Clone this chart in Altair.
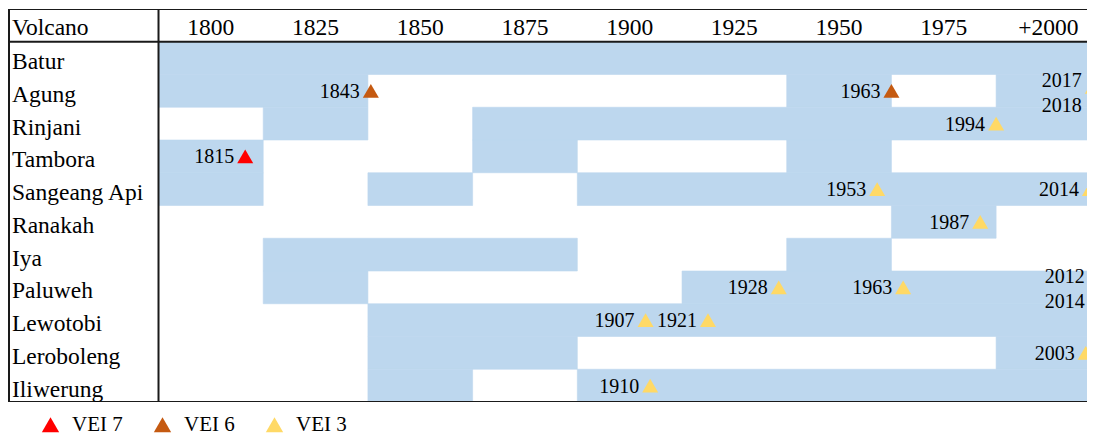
import altair as alt
import pandas as pd

# ---------------- data ----------------
volcanoes = ["Batur", "Agung", "Rinjani", "Tambora", "Sangeang Api", "Ranakah",
             "Iya", "Paluweh", "Lewotobi", "Leroboleng", "Iliwerung"]
period_years = [1800, 1825, 1850, 1875, 1900, 1925, 1950, 1975, 2000]
period_labels = ["1800", "1825", "1850", "1875", "1900", "1925", "1950", "1975", "+2000"]

# 1 = shaded (active) period, 0 = blank
active = {
    "Batur":        [1, 1, 1, 1, 1, 1, 1, 1, 1],
    "Agung":        [1, 1, 0, 0, 0, 0, 1, 0, 1],
    "Rinjani":      [0, 1, 0, 1, 1, 1, 1, 1, 1],
    "Tambora":      [1, 0, 0, 1, 0, 0, 1, 0, 0],
    "Sangeang Api": [1, 0, 1, 0, 1, 1, 1, 1, 1],
    "Ranakah":      [0, 0, 0, 0, 0, 0, 0, 1, 0],
    "Iya":          [0, 1, 1, 1, 0, 0, 1, 0, 0],
    "Paluweh":      [0, 1, 0, 0, 0, 1, 1, 1, 1],
    "Lewotobi":     [0, 0, 1, 1, 1, 1, 1, 1, 1],
    "Leroboleng":   [0, 0, 1, 1, 0, 0, 0, 0, 1],
    "Iliwerung":    [0, 0, 1, 0, 1, 1, 1, 1, 1],
}

event_volcano = ["Tambora", "Agung", "Agung", "Agung", "Rinjani", "Sangeang Api",
                 "Sangeang Api", "Ranakah", "Paluweh", "Paluweh", "Paluweh",
                 "Lewotobi", "Lewotobi", "Leroboleng", "Iliwerung"]
event_label = ["1815", "1843", "1963", "2017\n2018", "1994", "1953", "2014", "1987",
               "1928", "1963", "2012\n2014", "1907", "1921", "2003", "1910"]
event_vei = [7, 6, 6, 3, 3, 3, 3, 3, 3, 3, 3, 3, 3, 3, 3]
# where each marker sits along the time axis
event_pos = [1815.7, 1845.7, 1970.0, 2018.1, 1995.0, 1966.6, 2017.4, 1991.2,
             1943.1, 1972.8, 2018.8, 1911.3, 1926.2, 2016.4, 1912.4]

vei_names = ["VEI 7", "VEI 6", "VEI 3"]
vei_colors = ["#FF0000", "#C55A11", "#FFD966"]

# ---------------- tables built from the arrays ----------------
SPAN = 25
X_MIN, X_MAX = 1759.3, 2016.7
GRID_START = period_years[0] - 5
GRID_END = GRID_START + SPAN * len(period_years)
N_ROWS = len(volcanoes)

cells = []
for i, v in enumerate(volcanoes):
    flags = active[v]
    c = 0
    while c < len(flags):
        if flags[c]:
            s = c
            while c + 1 < len(flags) and flags[c + 1]:
                c += 1
            cells.append({"volcano": v, "x": GRID_START + SPAN * s,
                          "x2": GRID_START + SPAN * (c + 1), "y": i + 1, "y2": i + 2})
        c += 1
cells_df = pd.DataFrame(cells)

header_df = pd.DataFrame({
    "label": ["Volcano"] + period_labels,
    "x": [X_MIN] + [GRID_START + SPAN * k + SPAN / 2 for k in range(len(period_years))],
    "align": ["left"] + ["center"] * len(period_years),
    "y": [0.5] * (len(period_years) + 1),
})

rows_df = pd.DataFrame({"volcano": volcanoes, "x": [X_MIN] * N_ROWS,
                        "y": [i + 1.5 for i in range(N_ROWS)]})

# table borders run past the visible right edge (cropped, as in the source)
hrules = pd.DataFrame({"x": [X_MIN] * 3, "x2": [GRID_END] * 3, "y": [0, 1, N_ROWS + 1]})
vrules = pd.DataFrame({"x": [X_MIN, GRID_START], "y": [0, 0], "y2": [N_ROWS + 1] * 2})

ev = pd.DataFrame({
    "volcano": event_volcano, "label": event_label,
    "vei": ["VEI %d" % v for v in event_vei], "pos": event_pos,
    "y": [volcanoes.index(v) + 1.5 for v in event_volcano],
})
ev["two"] = ev["label"].str.contains("\n")
ev1 = ev[~ev["two"]]
ev2 = ev[ev["two"]]

# ---------------- chart ----------------
FONT = "Liberation Serif"
XS = alt.Scale(domain=[X_MIN, X_MAX], nice=False, zero=False)
YS = alt.Scale(domain=[0, N_ROWS + 1], reverse=True, nice=False, zero=False)

def X(f="x"):
    return alt.X(f"{f}:Q", scale=XS, axis=None)

def Y(f="y"):
    return alt.Y(f"{f}:Q", scale=YS, axis=None)

legend = alt.Legend(orient="none", legendX=31, legendY=405, direction="horizontal",
                    title=None, symbolType="triangle-up", symbolSize=300,
                    symbolStrokeWidth=0, labelFont=FONT, labelFontSize=21,
                    labelColor="black", labelOffset=11, columnPadding=29, padding=0)
color = alt.Color("vei:N", scale=alt.Scale(domain=vei_names, range=vei_colors),
                  legend=legend)

cells_l = alt.Chart(cells_df).mark_rect(
    clip=True, color="#BDD7EE", stroke="#BDD7EE", strokeWidth=0.6
).encode(x=X(), x2="x2:Q", y=Y(), y2="y2:Q")

hr = alt.Chart(hrules).mark_rule(color="#1a1a1a", strokeWidth=2, clip=True).encode(
    x=X(), x2="x2:Q", y=Y())
vr = alt.Chart(vrules).mark_rule(color="#1a1a1a", strokeWidth=2).encode(
    x=X(), y=Y(), y2="y2:Q")

head_left = alt.Chart(header_df[header_df["align"] == "left"]).mark_text(
    align="left", baseline="alphabetic", dx=3, dy=10, font=FONT, fontSize=23.5, color="black"
).encode(x=X(), y=Y(), text="label:N")
head_center = alt.Chart(header_df[header_df["align"] == "center"]).mark_text(
    align="center", baseline="alphabetic", dy=10, font=FONT, fontSize=23.5, color="black"
).encode(x=X(), y=Y(), text="label:N")

row_l = alt.Chart(rows_df).mark_text(
    align="left", baseline="alphabetic", dx=3, dy=11, font=FONT, fontSize=23.5, color="black"
).encode(x=X(), y=Y(), text="volcano:N")

pts1 = alt.Chart(ev1).mark_point(
    shape="triangle-up", filled=True, size=256, opacity=1, strokeWidth=0, clip=True
).encode(x=X("pos"), y=Y(), color=color)
pts2 = alt.Chart(ev2).mark_point(
    shape="triangle-up", filled=True, size=256, opacity=1, strokeWidth=0, clip=True,
    yOffset=-4
).encode(x=X("pos"), y=Y(), color=color)

txt1 = alt.Chart(ev1).mark_text(
    align="right", baseline="alphabetic", dx=-11, dy=7, font=FONT, fontSize=20, color="black"
).encode(x=X("pos"), y=Y(), text="label:N")
txt2 = alt.Chart(ev2).mark_text(
    align="right", baseline="alphabetic", dx=-11, dy=-4, font=FONT, fontSize=20,
    color="black", lineBreak="\n", lineHeight=25
).encode(x=X("pos"), y=Y(), text="label:N")

chart = alt.layer(
    cells_l, hr, vr, head_left, head_center, row_l, pts1, pts2, txt1, txt2
).properties(
    width=1078, height=393,
    autosize=alt.AutoSizeParams(type="none"),
    padding={"left": 1, "top": 1, "right": 0, "bottom": 33},
    background="white",
).configure_view(stroke=None)

chart.save("out.html", embed_options={"renderer": "svg", "actions": False})
